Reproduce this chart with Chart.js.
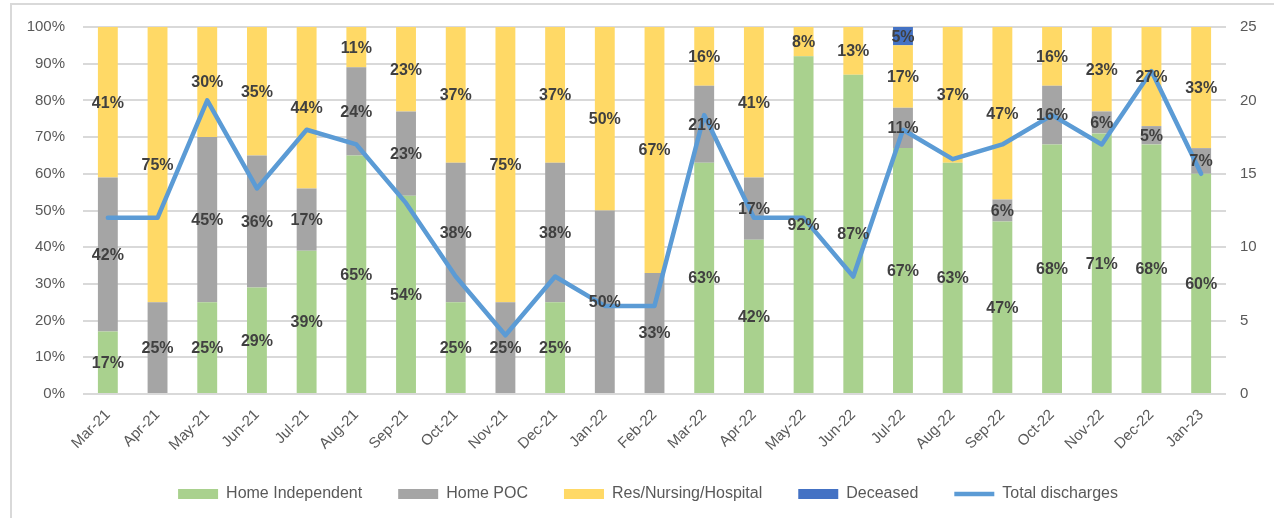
<!DOCTYPE html>
<html>
<head>
<meta charset="utf-8">
<title>Discharges by destination</title>
<script src="https://cdn.jsdelivr.net/npm/chart.js@4"></script>
<style>
  html, body { margin: 0; padding: 0; background: #fff; overflow: hidden; }
  #frame { position: absolute; left: 10px; top: 3px; width: 1400px; height: 700px;
           border-left: 2px solid #d9d9d9; border-top: 2px solid #d9d9d9; }
  #chart { position: absolute; left: 0; top: 0; }
</style>
</head>
<body>
<div id="frame"></div>
<canvas id="chart" width="1274" height="518"></canvas>
<script>
'use strict';

// Months on the x axis
const months = ['Mar-21', 'Apr-21', 'May-21', 'Jun-21', 'Jul-21', 'Aug-21', 'Sep-21', 'Oct-21',
  'Nov-21', 'Dec-21', 'Jan-22', 'Feb-22', 'Mar-22', 'Apr-22', 'May-22', 'Jun-22', 'Jul-22',
  'Aug-22', 'Sep-22', 'Oct-22', 'Nov-22', 'Dec-22', 'Jan-23'];

// Share of discharges (%) by destination
const homeIndependent = [17, 0, 25, 29, 39, 65, 54, 25, 0, 25, 0, 0, 63, 42, 92, 87, 67, 63, 47, 68, 71, 68, 60];
const homePOC = [42, 25, 45, 36, 17, 24, 23, 38, 25, 38, 50, 33, 21, 17, 0, 0, 11, 0, 6, 16, 6, 5, 7];
const resNursing = [41, 75, 30, 35, 44, 11, 23, 37, 75, 37, 50, 67, 16, 41, 8, 13, 17, 37, 47, 16, 23, 27, 33];
const deceased = [0, 0, 0, 0, 0, 0, 0, 0, 0, 0, 0, 0, 0, 0, 0, 0, 5, 0, 0, 0, 0, 0, 0];

// Total discharges (right axis)
const totalDischarges = [12, 12, 20, 14, 18, 17, 13, 8, 4, 8, 6, 6, 19, 12, 12, 8, 18, 16, 17, 19, 17, 22, 15];

// Axis ticks
const leftTicks = [0, 10, 20, 30, 40, 50, 60, 70, 80, 90, 100];
const rightTicks = [0, 5, 10, 15, 20, 25];

const FONT = "'Liberation Sans', Arial, sans-serif";
const TICK_COLOR = '#595959';
const GRID_COLOR = '#d9d9d9';

// Draws the percentage inside each bar segment
const barLabels = {
  id: 'barLabels',
  afterDatasetsDraw(chart) {
    const ctx = chart.ctx;
    ctx.save();
    ctx.font = 'bold 16px ' + FONT;
    ctx.fillStyle = '#404040';
    ctx.textAlign = 'center';
    ctx.textBaseline = 'middle';
    chart.data.datasets.forEach((ds, i) => {
      if (ds.type !== 'bar') return;
      const meta = chart.getDatasetMeta(i);
      meta.data.forEach((bar, j) => {
        const v = ds.data[j];
        if (!v) return;
        ctx.fillText(v + '%', bar.x, (bar.y + bar.base) / 2 + 1);
      });
    });
    ctx.restore();
  }
};

function barSet(label, data, color) {
  return {
    type: 'bar',
    label: label,
    data: data,
    backgroundColor: color,
    borderWidth: 0,
    yAxisID: 'y',
    stack: 'share',
    order: 1,
    pointStyle: 'rect',
    categoryPercentage: 1,
    barPercentage: 0.4
  };
}

new Chart(document.getElementById('chart'), {
  data: {
    labels: months,
    datasets: [
      barSet('Home Independent', homeIndependent, '#a9d18e'),
      barSet('Home POC', homePOC, '#a5a5a5'),
      barSet('Res/Nursing/Hospital', resNursing, '#ffd966'),
      barSet('Deceased', deceased, '#4472c4'),
      {
        type: 'line',
        label: 'Total discharges',
        data: totalDischarges,
        yAxisID: 'y1',
        borderColor: '#5b9bd5',
        backgroundColor: '#5b9bd5',
        borderWidth: 4.5,
        borderCapStyle: 'round',
        borderJoinStyle: 'round',
        pointRadius: 0,
        pointStyle: 'line',
        tension: 0,
        order: 0
      }
    ]
  },
  options: {
    responsive: false,
    devicePixelRatio: 1,
    animation: false,
    layout: { padding: { left: 22, right: 0, top: 27, bottom: 6 } },
    plugins: {
      tooltip: { enabled: false },
      legend: {
        position: 'bottom',
        labels: {
          usePointStyle: true,
          pointStyleWidth: 40,
          boxHeight: 10,
          padding: 36,
          color: TICK_COLOR,
          font: { family: FONT, size: 16 },
          sort: (a, b) => a.datasetIndex - b.datasetIndex
        }
      }
    },
    scales: {
      x: {
        stacked: true,
        grid: { display: false },
        border: { display: false },
        ticks: {
          color: TICK_COLOR,
          font: { family: FONT, size: 15 },
          minRotation: 45,
          maxRotation: 45,
          padding: 4
        },
        afterFit(scale) { scale.height = 56; }
      },
      y: {
        stacked: true,
        position: 'left',
        min: 0,
        max: 100,
        afterBuildTicks(scale) { scale.ticks = leftTicks.map(v => ({ value: v })); },
        grid: { color: GRID_COLOR, lineWidth: 2, drawTicks: false },
        border: { display: false },
        ticks: {
          color: TICK_COLOR,
          font: { family: FONT, size: 15 },
          padding: 18,
          callback: v => v + '%'
        },
        afterFit(scale) { scale.width = 61; }
      },
      y1: {
        position: 'right',
        min: 0,
        max: 25,
        afterBuildTicks(scale) { scale.ticks = rightTicks.map(v => ({ value: v })); },
        grid: { display: false, drawTicks: false },
        border: { display: false },
        ticks: {
          color: TICK_COLOR,
          font: { family: FONT, size: 15 },
          padding: 14
        },
        afterFit(scale) { scale.width = 48; }
      }
    }
  },
  plugins: [barLabels]
});
</script>
</body>
</html>
